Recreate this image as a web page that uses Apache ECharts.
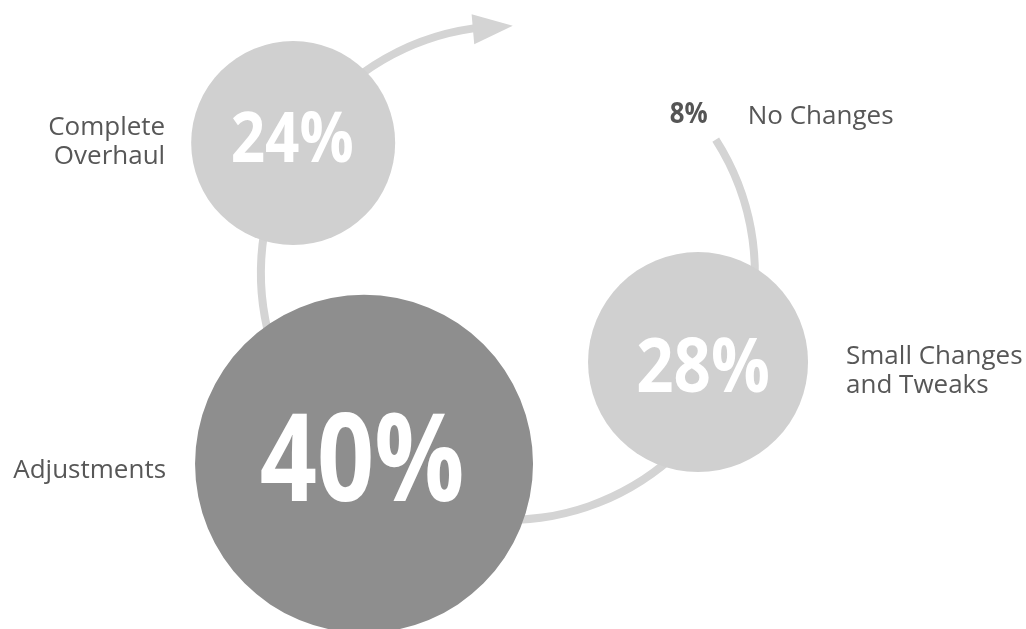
<!DOCTYPE html>
<html>
<head>
<meta charset="utf-8">
<script src="https://cdn.jsdelivr.net/npm/echarts@6/dist/echarts.min.js"></script>
<style>
  html, body { margin: 0; padding: 0; background: #fff; }
  #chart { width: 1026px; height: 629px; }
</style>
</head>
<body>
<div id="chart"></div>
<script>
// survey answers, in order round the cycle
var stages = ['Complete\nOverhaul', 'Adjustments', 'Small Changes\nand Tweaks', 'No Changes'];
var shares = [24, 40, 28, 8];

// layout of the cycle (angles go clockwise from the "No Changes" end of the path)
var layout = [
    { angle: 243.9, dist: 251, r: 102, color: '#d0d0d0', fs: 70, sx: 0.86, pdx: -1, pdy: -1, ndx: -128, ndy: -1, align: 'right' },
    { angle: 159.7, dist: 239, r: 169, color: '#8e8e8e', fs: 122, sx: 0.82, pdx: -2, pdy: 2, ndx: -198, ndy: 7, align: 'right' },
    { angle: 57.8, dist: 210, r: 110, color: '#d0d0d0', fs: 76, sx: 0.86, pdx: 5, pdy: 8, ndx: 148, ndy: 9, align: 'left' },
    { angle: 0, dist: 247, r: 0, color: '#555', fs: 28, sx: 0.92, pdx: -27, pdy: -25, ndx: 32, ndy: -23, align: 'left' }
];
var pathEnd = 294.7;   // where the grey path stops (under the arrow head)
var arrowAt = 299.2;

var pctFont = '"Open Sans", "Noto Sans", sans-serif';
var textFont = '"Open Sans", "Noto Sans", sans-serif';

var chart = echarts.init(document.getElementById('chart'));

function renderStage(params, api) {
    var l = layout[params.dataIndex];
    var pt = api.coord([api.value(0), api.value(1)]);
    var kids = [];
    if (l.r > 0) {
        kids.push({
            type: 'circle',
            shape: { cx: pt[0], cy: pt[1], r: l.r },
            style: { fill: l.color }
        });
    }
    kids.push({
        type: 'text',
        x: pt[0] + l.pdx,
        y: pt[1] + l.pdy,
        scaleX: l.sx,
        style: {
            text: shares[params.dataIndex] + '%',
            fill: l.r > 0 ? '#fff' : l.color,
            fontFamily: pctFont,
            fontWeight: 'bold',
            fontSize: l.fs,
            align: 'center',
            verticalAlign: 'middle'
        }
    });
    kids.push({
        type: 'text',
        x: pt[0] + l.ndx,
        y: pt[1] + l.ndy,
        style: {
            text: stages[params.dataIndex],
            fill: '#575757',
            fontFamily: textFont,
            fontWeight: 'normal',
            fontSize: 26,
            lineHeight: 29,
            align: l.align,
            verticalAlign: 'middle'
        }
    });
    return { type: 'group', children: kids };
}

var stageData = layout.map(function (l) { return [l.dist, l.angle]; });

var option = {
    animation: false,
    polar: [
        { center: ['49.5%', '43.4%'], radius: [200, 294] },
        { center: ['49.5%', '43.4%'], radius: 300 }
    ],
    angleAxis: [
        { polarIndex: 0, type: 'value', min: 0, max: 360, startAngle: 32.7, clockwise: true, show: false },
        { polarIndex: 1, type: 'value', min: 0, max: 360, startAngle: 32.7, clockwise: true, show: false }
    ],
    radiusAxis: [
        { polarIndex: 0, type: 'category', data: ['path'], show: false },
        { polarIndex: 1, type: 'value', min: 0, max: 300, show: false }
    ],
    series: [
        {
            type: 'bar',
            coordinateSystem: 'polar',
            polarIndex: 0,
            data: [pathEnd],
            barWidth: 8,
            itemStyle: { color: '#d4d4d4' },
            silent: true,
            z: 1
        },
        {
            // arrow head
            type: 'scatter',
            coordinateSystem: 'polar',
            polarIndex: 1,
            data: [[246, arrowAt]],
            symbol: 'triangle',
            symbolSize: [30, 40],
            symbolRotate: -85,
            itemStyle: { color: '#d4d4d4', opacity: 1 },
            silent: true,
            z: 1
        },
        {
            type: 'custom',
            coordinateSystem: 'polar',
            polarIndex: 1,
            data: stageData,
            renderItem: renderStage,
            silent: true,
            z: 3
        }
    ]
};

chart.setOption(option);
</script>
</body>
</html>
